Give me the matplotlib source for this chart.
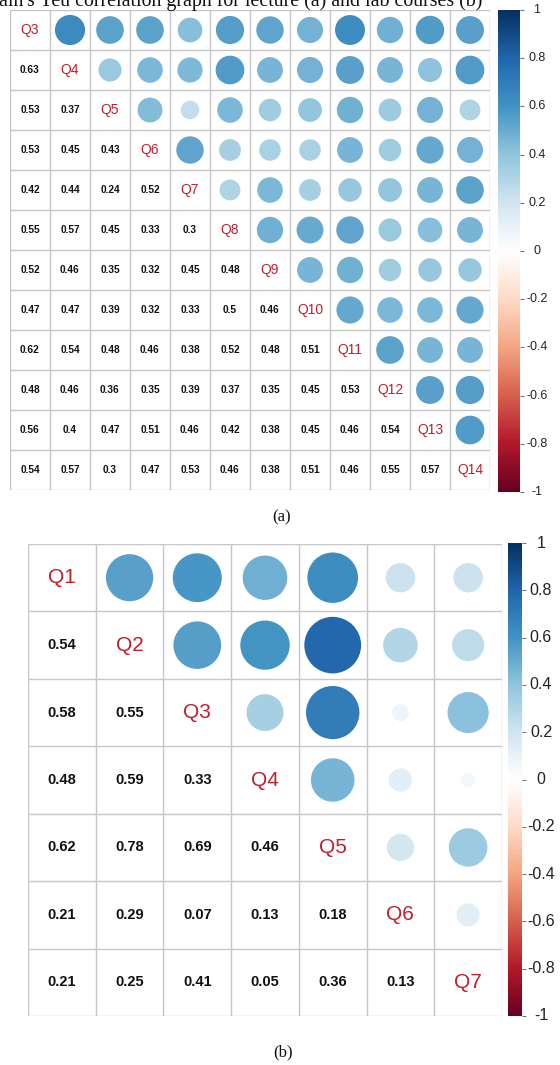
import numpy as np
import matplotlib
matplotlib.use("Agg")
import matplotlib.pyplot as plt
import matplotlib.transforms as mtransforms
from matplotlib.colors import LinearSegmentedColormap, Normalize
from matplotlib.patches import Circle
from matplotlib.cm import ScalarMappable

# ---------------- data ----------------
labels_a = ["Q3", "Q4", "Q5", "Q6", "Q7", "Q8", "Q9", "Q10", "Q11", "Q12", "Q13", "Q14"]
lower_a = [
    [],
    [0.63],
    [0.53, 0.37],
    [0.53, 0.45, 0.43],
    [0.42, 0.44, 0.24, 0.52],
    [0.55, 0.57, 0.45, 0.33, 0.30],
    [0.52, 0.46, 0.35, 0.32, 0.45, 0.48],
    [0.47, 0.47, 0.39, 0.32, 0.33, 0.50, 0.46],
    [0.62, 0.54, 0.48, 0.46, 0.38, 0.52, 0.48, 0.51],
    [0.48, 0.46, 0.36, 0.35, 0.39, 0.37, 0.35, 0.45, 0.53],
    [0.56, 0.40, 0.47, 0.51, 0.46, 0.42, 0.38, 0.45, 0.46, 0.54],
    [0.54, 0.57, 0.30, 0.47, 0.53, 0.46, 0.38, 0.51, 0.46, 0.55, 0.57],
]

labels_b = ["Q1", "Q2", "Q3", "Q4", "Q5", "Q6", "Q7"]
lower_b = [
    [],
    [0.54],
    [0.58, 0.55],
    [0.48, 0.59, 0.33],
    [0.62, 0.78, 0.69, 0.46],
    [0.21, 0.29, 0.07, 0.13, 0.18],
    [0.21, 0.25, 0.41, 0.05, 0.36, 0.13],
]

cbar_ticks = [-1, -0.8, -0.6, -0.4, -0.2, 0, 0.2, 0.4, 0.6, 0.8, 1]
cbar_ticklabels = ["-1", "-0.8", "-0.6", "-0.4", "-0.2", "0", "0.2", "0.4", "0.6", "0.8", "1"]

title_text = "ain's Yeu correlation graph for lecture (a) and lab courses (b)"

# ---------------- style ----------------
W, H = 560, 1065
cmap = LinearSegmentedColormap.from_list(
    "corrRdBu",
    ["#67001F", "#B2182B", "#D6604D", "#F4A582", "#FDDBC7", "#FFFFFF",
     "#D1E5F0", "#92C5DE", "#4393C3", "#2166AC", "#053061"], N=200)
norm = Normalize(-1, 1)
grid_col = "#c6c6c6"
lab_col = "#c0202a"

plt.rcParams["font.family"] = ["Liberation Sans", "DejaVu Sans"]

fig = plt.figure(figsize=(W / 100, H / 100), dpi=100)


def px_axes(x0, y0, x1, y1):
    return fig.add_axes([x0 / W, 1 - y1 / H, (x1 - x0) / W, (y1 - y0) / H])


def full_matrix(lower):
    n = len(lower)
    m = np.eye(n)
    for i, row in enumerate(lower):
        for j, v in enumerate(row):
            m[i, j] = v
            m[j, i] = v
    return m


def draw_corr(ax, labels, lower, num_fs, lab_fs):
    m = full_matrix(lower)
    n = len(labels)
    ax.set_xlim(0, n)
    ax.set_ylim(n, 0)
    ax.axis("off")
    for k in range(n + 1):
        ax.plot([0, n], [k, k], color=grid_col, lw=1.0, solid_capstyle="butt")
        ax.plot([k, k], [0, n], color=grid_col, lw=1.0, solid_capstyle="butt")
    for i in range(n):
        for j in range(n):
            v = m[i, j]
            cx, cy = j + 0.5, i + 0.5
            if i == j:
                ax.text(cx, cy, labels[i], ha="center", va="center",
                        fontsize=lab_fs, color=lab_col)
            elif i > j:
                txt = ("%.2f" % v).rstrip("0").rstrip(".") if v != 0 else "0"
                ax.text(cx, cy, txt, ha="center", va="center",
                        fontsize=num_fs, fontweight="bold", color="#111111")
            else:
                r = 0.475 * np.sqrt(abs(v))
                ax.add_patch(Circle((cx, cy), r, facecolor=cmap(norm(v)),
                                    edgecolor="none"))


def draw_cbar(cax, fs, label_x):
    sm = ScalarMappable(norm=norm, cmap=cmap)
    cb = fig.colorbar(sm, cax=cax)
    cb.outline.set_visible(False)
    cb.set_ticks(cbar_ticks)
    cb.set_ticklabels([""] * len(cbar_ticks))
    cax.tick_params(axis="y", length=3, width=0.6, color="#555555")
    trans = mtransforms.blended_transform_factory(cax.transAxes, cax.transData)
    for t, lab in zip(cbar_ticks, cbar_ticklabels):
        cax.text(label_x, t, lab, transform=trans, ha="center", va="center",
                 fontsize=fs, color="#222222")


# panel (a)
ax_a = px_axes(10, 10, 490, 490)
draw_corr(ax_a, labels_a, lower_a, 7.3, 10)
cax_a = px_axes(498, 10, 520, 492)
draw_cbar(cax_a, 9, (537 - 498) / 22)

# panel (b)
ax_b = px_axes(28, 544, 502, 1016)
draw_corr(ax_b, labels_b, lower_b, 10.5, 15)
cax_b = px_axes(508, 543, 522, 1016)
draw_cbar(cax_b, 11.5, (541 - 508) / 14)

# captions
fig.text(-1 / W, 1 - 6 / H, title_text, ha="left", va="baseline",
         fontsize=14.3, family=["Liberation Serif", "DejaVu Serif"], color="#111111")
fig.text(282 / W, 1 - 517 / H, "(a)", ha="center", va="center",
         fontsize=12, family=["Liberation Serif", "DejaVu Serif"], color="#111111")
fig.text(283 / W, 1 - 1052 / H, "(b)", ha="center", va="center",
         fontsize=12, family=["Liberation Serif", "DejaVu Serif"], color="#111111")

fig.savefig("out.png", dpi=100)
